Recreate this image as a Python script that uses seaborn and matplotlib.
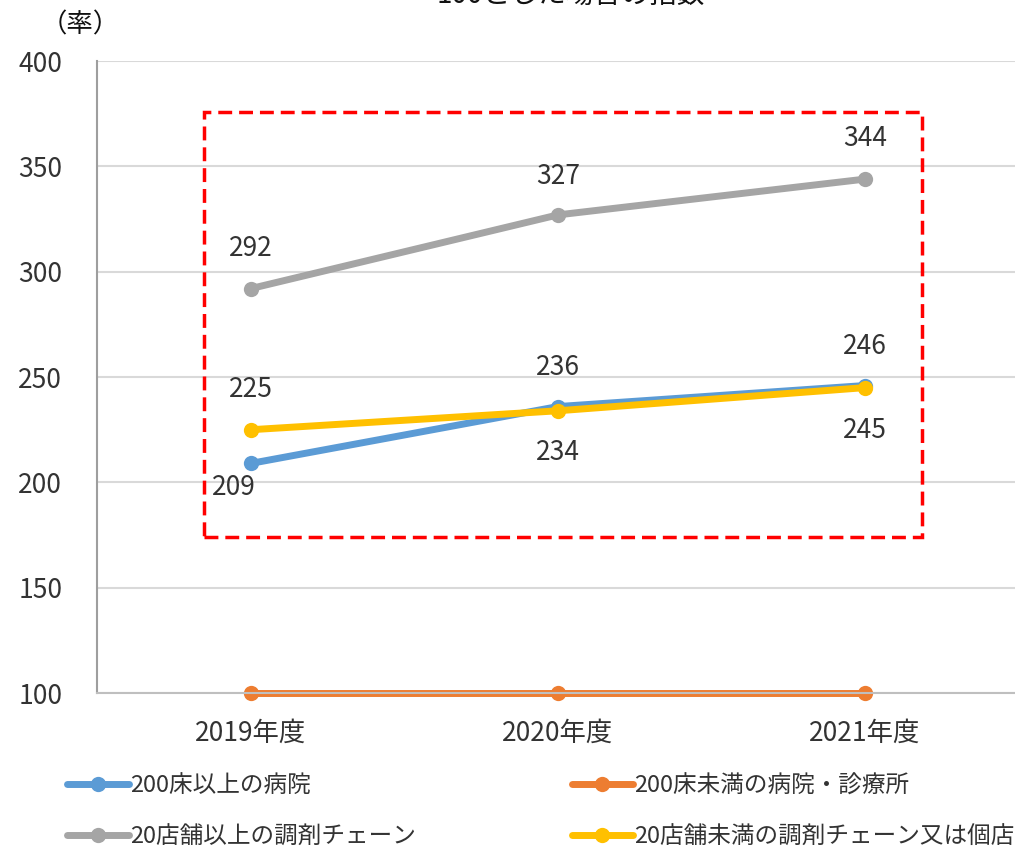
import seaborn as sns
import pandas as pd
import matplotlib.pyplot as plt
from matplotlib.lines import Line2D
from matplotlib.patches import Rectangle

years = ['2019年度', '2020年度', '2021年度']
series_names = ['200床以上の病院', '200床未満の病院・診療所', '20店舗以上の調剤チェーン', '20店舗未満の調剤チェーン又は個店']
hosp_large = [209, 236, 246]
hosp_small = [100, 100, 100]
chain_large = [292, 327, 344]
chain_small = [225, 234, 245]
colors = ['#5B9BD5', '#ED7D31', '#A5A5A5', '#FFC000']

sns.set_theme(style='white')
plt.rcParams['font.family'] = ['Noto Sans CJK JP', 'DejaVu Sans']
txt_color = '#333333'

df = pd.concat([
    pd.DataFrame({'year': years, 'value': vals, 'series': name})
    for name, vals in zip(series_names, [hosp_large, hosp_small, chain_large, chain_small])
])

fig = plt.figure(figsize=(10.15, 8.47), dpi=100)
ax = fig.add_axes([0.0956, 0.1818, 0.908, 0.746])
# orange first so the other lines sit on top of it
order = [series_names[1], series_names[0], series_names[2], series_names[3]]
pal = dict(zip(series_names, colors))
for name in order:
    sub = df[df.series == name]
    sns.lineplot(sub, x='year', y='value', color=pal[name], lw=5, marker='o',
                 markersize=11, markeredgewidth=0, ax=ax, legend=False)
for ln in ax.lines:
    ln.set_clip_on(False)

ax.set_xlim(-0.5, 2.5)
ax.set_ylim(100, 400)
ax.set_yticks(range(100, 401, 50))
ax.grid(axis='y', color='#D9D9D9', lw=1.5)
ax.set_axisbelow(True)
for s in ['top', 'right']:
    ax.spines[s].set_visible(False)
ax.spines['left'].set_color('#9E9E9E')
ax.spines['left'].set_linewidth(1.5)
ax.spines['bottom'].set_color('#BFBFBF')
ax.spines['bottom'].set_linewidth(1.5)
ax.tick_params(axis='y', length=0, pad=25, labelsize=19, labelcolor=txt_color)
ax.tick_params(axis='x', length=0, pad=19, labelsize=19, labelcolor=txt_color)
ax.set_xlabel('')
ax.set_ylabel('')

# data labels (offsets in points)
label_offsets = {
    series_names[0]: [(-12, -17), (0, 28), (0, 28)],
    series_names[2]: [(0, 29), (0, 28), (0, 29)],
    series_names[3]: [(0, 29), (0, -30), (0, -31)],
}
for name, offs in label_offsets.items():
    vals = df[df.series == name].value.tolist()
    for i, (v, off) in enumerate(zip(vals, offs)):
        ax.annotate(str(v), (i, v), xytext=off, textcoords='offset points',
                    ha='center', va='center', fontsize=19, color=txt_color)

# red dashed highlight box
fig.patches.append(Rectangle((0.201, 0.366), 0.707, 0.502, transform=fig.transFigure,
                             fill=False, edgecolor='#FF0000', lw=2.5,
                             linestyle=(0, (4, 2)), zorder=5))

fig.text(0.562, 1.006, '100とした場合の指数', ha='center', va='center', fontsize=20, color='#111111')
fig.text(0.040, 1 - 25 / 847, '（率）', ha='left', va='center', fontsize=19, color='#111111')

handles = [Line2D([0], [0], color=pal[n], lw=5, marker='o', markersize=11, markeredgewidth=0)
           for n in [series_names[0], series_names[2], series_names[1], series_names[3]]]
labels = [series_names[0], series_names[2], series_names[1], series_names[3]]
fig.legend(handles, labels, loc='upper left', bbox_to_anchor=(0.057, 0.097), ncol=2,
           frameon=False, fontsize=17, handlelength=2.6, handletextpad=0.05,
           columnspacing=6.6, labelspacing=1.2, borderaxespad=0, labelcolor=txt_color)

fig.savefig('out.png', dpi=100)
